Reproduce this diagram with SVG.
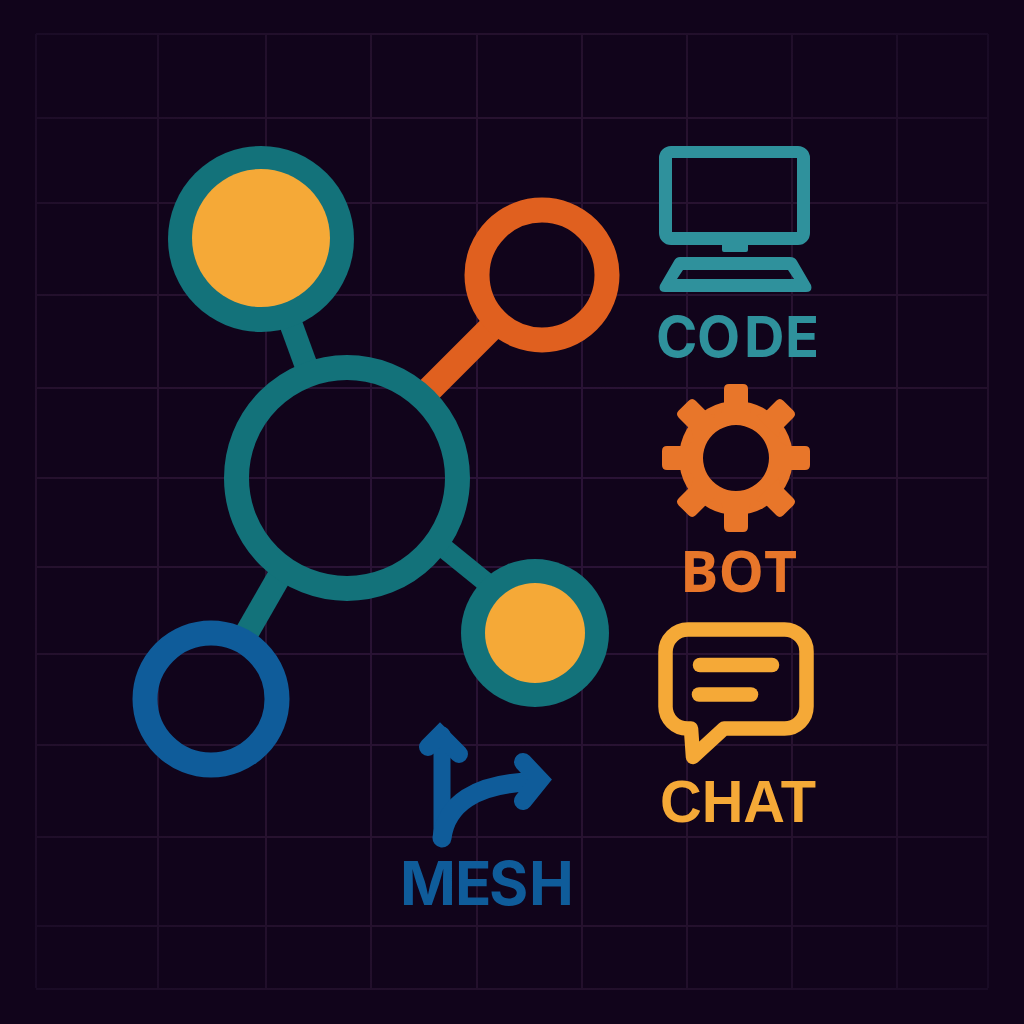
<svg xmlns="http://www.w3.org/2000/svg" width="1024" height="1024" viewBox="0 0 1024 1024">
<style>
.grid line{stroke:url(#gridfade);stroke-width:2}
.lbl{font-weight:700}
.ring{fill:none;stroke-width:25}
.teal{stroke:#13727a}
.orange{stroke:#e0601f}
.blue{stroke:#0f5c9a}
.ico{fill:none;stroke-linecap:round;stroke-linejoin:round}
</style>
<defs>
<radialGradient id="gridfade" gradientUnits="userSpaceOnUse" cx="500" cy="500" r="680">
<stop offset="0" stop-color="#2b1338"/><stop offset="0.6" stop-color="#27122f"/><stop offset="1" stop-color="#190b25"/>
</radialGradient>
</defs>
<rect id="background" width="1024" height="1024" fill="#11041b"/>
<g id="grid" class="grid">
<line x1="36" y1="34" x2="36" y2="988"/><line x1="158" y1="34" x2="158" y2="988"/><line x1="266" y1="34" x2="266" y2="988"/><line x1="371" y1="34" x2="371" y2="988"/><line x1="477" y1="34" x2="477" y2="988"/><line x1="582" y1="34" x2="582" y2="988"/><line x1="687" y1="34" x2="687" y2="988"/><line x1="792" y1="34" x2="792" y2="988"/><line x1="897" y1="34" x2="897" y2="988"/><line x1="988" y1="34" x2="988" y2="988"/>
<line x1="36" y1="34" x2="988" y2="34"/><line x1="36" y1="118" x2="988" y2="118"/><line x1="36" y1="203" x2="988" y2="203"/><line x1="36" y1="295" x2="988" y2="295"/><line x1="36" y1="388" x2="988" y2="388"/><line x1="36" y1="478" x2="988" y2="478"/><line x1="36" y1="567" x2="988" y2="567"/><line x1="36" y1="654" x2="988" y2="654"/><line x1="36" y1="745" x2="988" y2="745"/><line x1="36" y1="837" x2="988" y2="837"/><line x1="36" y1="926" x2="988" y2="926"/><line x1="36" y1="989" x2="988" y2="989"/>
</g>
<g id="connectors">
<line x1="288" y1="316" x2="307" y2="368" class="teal" stroke-width="23"/>
<line x1="428" y1="391" x2="497" y2="322" class="orange" stroke-width="26"/>
<line x1="440" y1="545" x2="498" y2="592" class="teal" stroke-width="20"/>
<line x1="280" y1="575" x2="245" y2="636" class="teal" stroke-width="24"/>
</g>
<g id="node-top"><circle cx="261" cy="239" r="93" fill="#13727a"/><circle cx="261" cy="238" r="69" fill="#f5a937"/></g>
<g id="node-orange"><circle cx="542" cy="275" r="65" class="ring orange"/></g>
<g id="node-center"><circle cx="347" cy="478" r="110.500" class="ring teal"/></g>
<g id="node-right"><circle cx="535" cy="633" r="74" fill="#13727a"/><circle cx="535" cy="633" r="50" fill="#f5a937"/></g>
<g id="node-blue"><circle cx="211" cy="699" r="66" class="ring blue"/></g>
<g id="code">
<path d="M671 146H798A12 12 0 0 1 810 158V233A12 12 0 0 1 798 245H748V250Q748 252 746 252H724Q722 252 722 250V245H671A12 12 0 0 1 659 233V158A12 12 0 0 1 671 146ZM672 158V232H797V158Z" fill="#2f919c" fill-rule="evenodd"/>
<path d="M680 257H790Q795 257 797 261L811 285Q813 292 806 292H665Q658 292 660 285L674 261Q676 257 680 257ZM683 270L677 279H794L788 270Z" fill="#2f919c" fill-rule="evenodd"/>
<text class="lbl" x="656 697 744 785" y="357" font-family="Inter,'Liberation Sans',sans-serif" font-size="56" fill="#2f919c">CODE</text>
</g>
<g id="bot">
<path fill="#e8762a" fill-rule="evenodd" d="M736 401a57 57 0 1 0 0.010 0ZM736 425a33 33 0 1 1 -0.010 0Z"/>
<g fill="#e8762a">
<g id="tooth"><path d="M724 389Q724 384 729 384H743Q748 384 748 389V407L752 414H720L724 407Z"/></g>
<use href="#tooth" transform="rotate(45 736 458)"/><use href="#tooth" transform="rotate(90 736 458)"/><use href="#tooth" transform="rotate(135 736 458)"/><use href="#tooth" transform="rotate(180 736 458)"/><use href="#tooth" transform="rotate(225 736 458)"/><use href="#tooth" transform="rotate(270 736 458)"/><use href="#tooth" transform="rotate(315 736 458)"/>
</g>
<text class="lbl" x="680" y="592" font-family="'Open Sans','Liberation Sans',sans-serif" font-weight="800" font-size="57" fill="#e8762a" textLength="117" lengthAdjust="spacingAndGlyphs">BOT</text>
</g>
<g id="chat">
<path class="ico" stroke="#f5a937" stroke-width="14.500" d="M724 728.500H784A22 22 0 0 0 806.500 706V652A22 22 0 0 0 784 629.500H688A22.500 22.500 0 0 0 665.500 652V706A22 22 0 0 0 688 728.500H691L693 757Z"/>
<line class="ico" x1="700" y1="665" x2="772" y2="665" stroke="#f5a937" stroke-width="14.500"/>
<line class="ico" x1="699" y1="694.500" x2="751" y2="694.500" stroke="#f5a937" stroke-width="14.500"/>
<text class="lbl" x="660" y="822" font-family="'Liberation Sans',Arial,sans-serif" font-size="59" fill="#f5a937" textLength="156" lengthAdjust="spacingAndGlyphs">CHAT</text>
</g>
<g id="mesh">
<g class="ico" stroke="#0f5c9a" stroke-width="18">
<path d="M442 838V735" stroke-width="17"/>
<path d="M428 747L440 735L459 754" stroke-linejoin="miter"/>
<path d="M442 838C446 805 475 783 532 782" stroke-width="19"/>
<path d="M523 762L540 780L523 801" stroke-linejoin="miter"/>
</g>
<text class="lbl" x="400 455 489 529" y="905" font-family="Inter,'Liberation Sans',sans-serif" font-size="60" fill="#0f5c9a">MESH</text>
</g>
</svg>
